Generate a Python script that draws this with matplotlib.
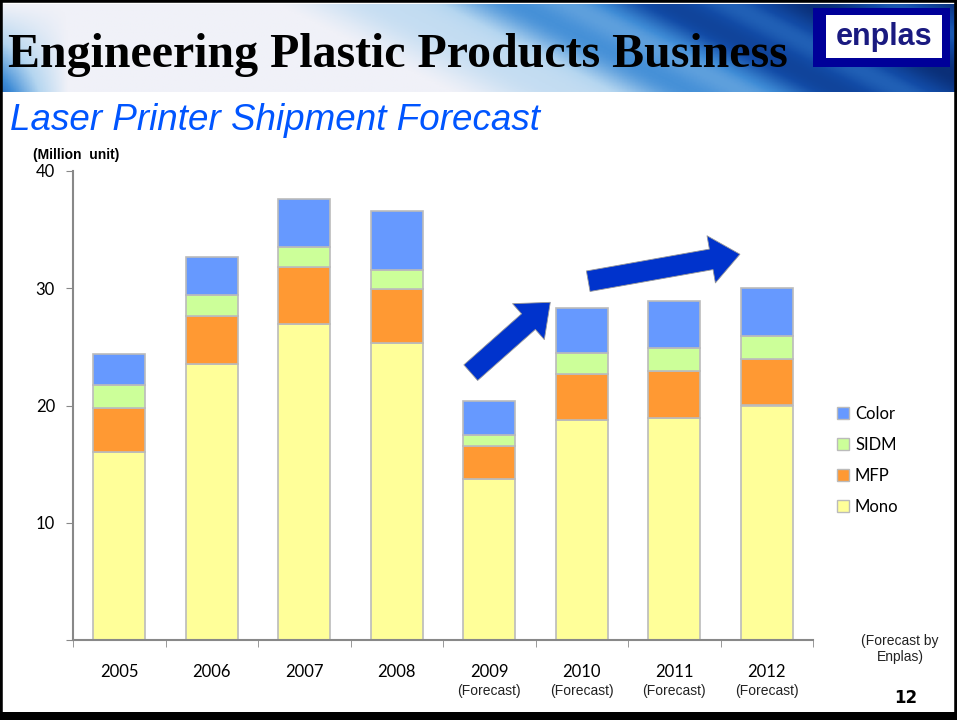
import numpy as np
from matplotlib import pyplot
from matplotlib.colors import LinearSegmentedColormap
from matplotlib.patches import Rectangle
from matplotlib.lines import Line2D

years = ["2005", "2006", "2007", "2008", "2009", "2010", "2011", "2012"]
forecast = [False, False, False, False, True, True, True, True]
mono = [16.0, 23.5, 26.95, 25.35, 13.7, 18.8, 18.95, 20.0]
mfp = [3.8, 4.1, 4.9, 4.6, 2.85, 3.85, 4.0, 4.0]
sidm = [1.95, 1.8, 1.7, 1.6, 0.95, 1.85, 1.95, 1.95]
color = [2.65, 3.3, 4.1, 5.05, 2.85, 3.85, 4.0, 4.05]

series = [
    ("Mono", mono, "#FFFF99"),
    ("MFP", mfp, "#FF9933"),
    ("SIDM", sidm, "#CCFF99"),
    ("Color", color, "#6699FF"),
]

W, H = 957, 720
figure = pyplot.figure(figsize=(W / 100, H / 100), dpi=100)
figure.patch.set_facecolor("white")

# header band with blue streaks
hdr = figure.add_axes([0, 1 - 92 / H, 1, 88 / H])
gx, gy = np.meshgrid(np.linspace(0, 1, 600), np.linspace(0, 1, 60))
t = gx + 0.18 * gy
streak = 0.5 + 0.5 * np.sin(t * 38)
base = np.clip((t - 0.47) / 0.5, 0, 1)
val = np.clip(base * (0.7 + 0.3 * streak), 0, 1)
left = np.clip((0.07 - gx) / 0.07, 0, 1) * (1 - gy) * 0.6
val = np.maximum(val, left)
cmap = LinearSegmentedColormap.from_list(
    "hdr", ["#F0F1F8", "#B5D6F0", "#3F8CD6", "#124BA6", "#0A2F78"])
hdr.imshow(val, cmap=cmap, aspect="auto", origin="lower",
           extent=[0, 1, 0, 1], vmin=0, vmax=1)
hdr.set_xlim(0, 1)
hdr.set_ylim(0, 1)
hdr.axis("off")
hdr.text(0.008, 0.42, "Engineering Plastic Products Business",
         family="Liberation Serif", weight="bold", fontsize=34.5,
         color="black", va="center", ha="left")
# logo
hdr.add_patch(Rectangle((813 / W, 1 - 63 / 88), 137 / W, 59 / 88,
                        facecolor="#000099", edgecolor="none"))
hdr.add_patch(Rectangle((826 / W, 1 - 54 / 88), 116 / W, 43 / 88,
                        facecolor="white", edgecolor="none"))
hdr.text(884 / W, 1 - 33 / 88, "enplas", family="Liberation Sans",
         weight="bold", fontsize=22, color="#1A1A80", ha="center", va="center")

figure.text(10 / W, 1 - 120 / H, "Laser Printer Shipment Forecast",
            family="Liberation Sans", style="italic", fontsize=26.5,
            color="#0055FF", va="center", ha="left")
figure.text(33 / W, 1 - 155 / H, "(Million  unit)", family="Liberation Sans",
            weight="bold", fontsize=10, va="center", ha="left")

ax = figure.add_axes([73 / W, 1 - 640 / H, (813 - 73) / W, (640 - 171) / H])
x = np.arange(len(years))
bottom = np.zeros(len(years))
handles = {}
for name, vals, c in series:
    ax.bar(x, vals, 0.56, bottom=bottom, color=c,
           edgecolor="#BBBBBB", linewidth=1.2, label=name)
    bottom += np.array(vals)
    handles[name] = Line2D([], [], marker="s", linestyle="none",
                           markersize=9, markerfacecolor=c,
                           markeredgecolor="#BBBBBB", label=name)

ax.set_xlim(-0.5, len(years) - 0.5)
ax.set_ylim(0, 40)
ax.set_yticks([0, 10, 20, 30, 40], ["", "10", "20", "30", "40"])
ax.set_xticks(x, years)
ax.set_xticks(np.arange(len(years) + 1) - 0.5, minor=True)
ax.tick_params(axis="x", which="major", length=0, pad=17, labelsize=12)
ax.tick_params(axis="x", which="minor", length=5, color="#888888")
ax.tick_params(axis="y", length=5, color="#888888", pad=8, labelsize=12)
for lab in ax.get_xticklabels() + ax.get_yticklabels():
    lab.set_family("Lato")
for s in ["top", "right"]:
    ax.spines[s].set_visible(False)
for s in ["left", "bottom"]:
    ax.spines[s].set_color("#888888")
    ax.spines[s].set_linewidth(1.5)

for i, f in enumerate(forecast):
    if f:
        ax.text(i, -0.109, "(Forecast)", transform=ax.get_xaxis_transform(),
                family="Liberation Sans", fontsize=10, ha="center",
                va="center", color="#222222")

# trend arrows
arrow = dict(arrowstyle="simple,head_width=2.3,head_length=1.4,tail_width=1.0",
             mutation_scale=15, facecolor="#0033CC", edgecolor="#999999",
             linewidth=0.6, shrinkA=0, shrinkB=0)
ax.annotate("", xy=(4.66, 28.8), xytext=(3.8, 22.8), arrowprops=arrow)
ax.annotate("", xy=(6.71, 32.9), xytext=(5.07, 30.6), arrowprops=arrow)

figure.legend(handles=[handles[n] for n in ["Color", "SIDM", "MFP", "Mono"]],
              loc="upper left", bbox_to_anchor=(820 / W, 1 - 391 / H),
              frameon=False, prop={"family": "Lato", "size": 12},
              labelspacing=0.9, handletextpad=0.2, handlelength=1.0)

figure.text(900 / W, 1 - 649 / H, "(Forecast by\nEnplas)",
            family="Liberation Sans", fontsize=10, ha="center", va="center",
            linespacing=1.25, color="#222222")
figure.text(906 / W, 1 - 698 / H, "12", family="DejaVu Sans", weight="bold",
            fontsize=12, ha="center", va="center")

# slide frame
figure.add_artist(Rectangle((0, 0), 1, 8 / H, transform=figure.transFigure,
                            facecolor="black", edgecolor="none"))
figure.add_artist(Rectangle((0, 0), 1, 1, transform=figure.transFigure,
                            facecolor="none", edgecolor="black", linewidth=4))

pyplot.savefig("out.png", dpi=100)
